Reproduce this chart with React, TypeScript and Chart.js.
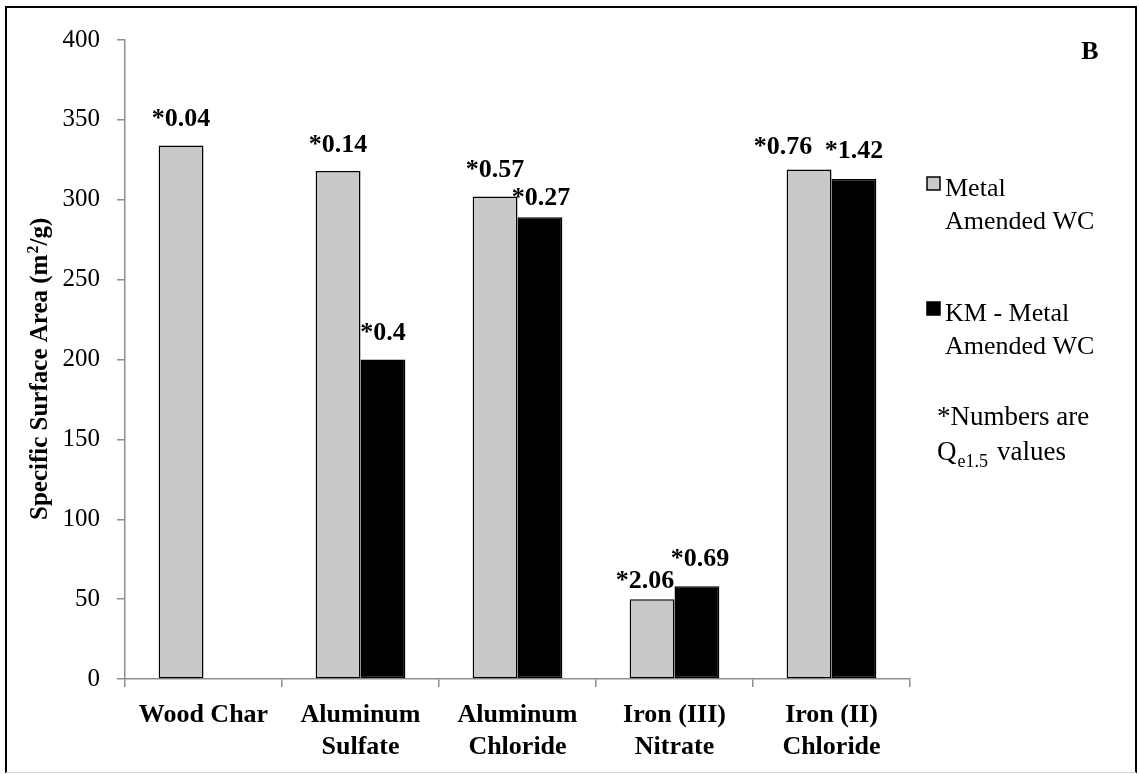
import React, { useEffect, useRef } from "react";
import { Chart, registerables } from "chart.js";

Chart.register(...registerables);

const SERIF = '"Liberation Serif", "Times New Roman", Times, serif';

// ---- data ----
const categories: string[][] = [
  ["Wood Char"],
  ["Aluminum", "Sulfate"],
  ["Aluminum", "Chloride"],
  ["Iron (III)", "Nitrate"],
  ["Iron (II)", "Chloride"],
];
const metalAmendedWC: (number | null)[] = [334, 318, 302, 50, 319];
const kmMetalAmendedWC: (number | null)[] = [null, 200, 289, 58, 313];
const metalQe: string[] = ["*0.04", "*0.14", "*0.57", "*2.06", "*0.76"];
const kmQe: string[] = ["", "*0.4", "*0.27", "*0.69", "*1.42"];
const yMin = 0;
const yMax = 400;
const yStep = 50;

const seriesNames = ["Metal Amended WC", "KM - Metal Amended WC"];
const legendLines: string[][] = [
  ["Metal", "Amended WC"],
  ["KM - Metal", "Amended WC"],
];
const yTitleMain = "Specific Surface Area (m";
const yTitleSup = "2";
const yTitleEnd = "/g)";
const panelLetter = "B";

// label placement offsets [dx, baseline distance above bar top]
const metalLabelShift: number[][] = [[0, 19], [0, 19], [0, 20], [-7, 11], [-26, 15]];
const kmLabelShift: number[][] = [[0, 0], [0, 20], [1, 12], [3, 20], [0, 21]];

const GRAY = "#c9c9c9";

const annotations = {
  id: "annotations",
  afterDatasetsDraw(chart: any) {
    const ctx = chart.ctx as CanvasRenderingContext2D;
    ctx.save();
    ctx.font = `bold 26px ${SERIF}`;
    ctx.fillStyle = "#000";
    ctx.textAlign = "center";
    ctx.textBaseline = "alphabetic";
    const sets = [metalQe, kmQe];
    const shifts = [metalLabelShift, kmLabelShift];
    sets.forEach((labels, di) => {
      const meta = chart.getDatasetMeta(di);
      meta.data.forEach((bar: any, i: number) => {
        const t = labels[i];
        const v = chart.data.datasets[di].data[i];
        if (!t || v == null) return;
        const [dx, dy] = shifts[di][i];
        ctx.fillText(t, bar.x + dx, bar.y - dy);
      });
    });
    ctx.restore();
  },
  afterDraw(chart: any) {
    const ctx = chart.ctx as CanvasRenderingContext2D;
    ctx.save();

    // y axis title (rotated) with superscript
    ctx.translate(47, 520);
    ctx.rotate(-Math.PI / 2);
    ctx.fillStyle = "#000";
    ctx.textAlign = "left";
    ctx.textBaseline = "alphabetic";
    ctx.font = `bold 25px ${SERIF}`;
    ctx.fillText(yTitleMain, 0, 0);
    let w = ctx.measureText(yTitleMain).width;
    ctx.font = `bold 16px ${SERIF}`;
    ctx.fillText(yTitleSup, w + 1, -9);
    w += ctx.measureText(yTitleSup).width + 1;
    ctx.font = `bold 25px ${SERIF}`;
    ctx.fillText(yTitleEnd, w, 0);
    ctx.setTransform(1, 0, 0, 1, 0, 0);

    // legend
    const colors = [GRAY, "#000"];
    const baseY = [196, 321];
    ctx.font = `26px ${SERIF}`;
    ctx.textAlign = "left";
    ctx.textBaseline = "alphabetic";
    legendLines.forEach((lines, i) => {
      const by = baseY[i];
      ctx.fillStyle = colors[i];
      ctx.fillRect(927, by - 19, 13, 13);
      ctx.strokeStyle = "#000";
      ctx.lineWidth = 1.5;
      ctx.strokeRect(927, by - 19, 13, 13);
      ctx.fillStyle = "#000";
      lines.forEach((ln, j) => ctx.fillText(ln, 945, by + j * 33));
    });

    // note
    ctx.font = `27px ${SERIF}`;
    ctx.fillText("*Numbers are", 937, 425);
    ctx.fillText("Q", 937, 460);
    const qw = ctx.measureText("Q").width;
    ctx.font = `18px ${SERIF}`;
    ctx.fillText("e1.5", 937 + qw + 1, 467);
    const ew = ctx.measureText("e1.5").width;
    ctx.font = `27px ${SERIF}`;
    ctx.fillText("values", 937 + qw + 1 + ew + 9, 460);

    // panel letter
    ctx.font = `bold 26px ${SERIF}`;
    ctx.textAlign = "center";
    ctx.fillText(panelLetter, 1090, 59);

    // frame
    ctx.strokeStyle = "#000";
    ctx.lineWidth = 2;
    ctx.beginPath();
    ctx.moveTo(6, 773);
    ctx.lineTo(6, 7);
    ctx.lineTo(1136, 7);
    ctx.lineTo(1136, 773);
    ctx.stroke();
    ctx.strokeStyle = "#d0d0d0";
    ctx.lineWidth = 1;
    ctx.beginPath();
    ctx.moveTo(6, 772.5);
    ctx.lineTo(1136, 772.5);
    ctx.stroke();
    ctx.restore();
  },
};

export default function App() {
  const ref = useRef<HTMLCanvasElement | null>(null);
  useEffect(() => {
    if (!ref.current) return;
    const chart = new Chart(ref.current, {
      type: "bar",
      data: {
        labels: categories,
        datasets: [
          {
            label: seriesNames[0],
            data: metalAmendedWC,
            backgroundColor: GRAY,
            borderColor: "#000",
            borderWidth: 1.5,
            borderSkipped: false,
            categoryPercentage: 2 / 3.5,
            barPercentage: 1,
          },
          {
            label: seriesNames[1],
            data: kmMetalAmendedWC,
            backgroundColor: "#000",
            borderColor: "#000",
            borderWidth: 1.5,
            borderSkipped: false,
            categoryPercentage: 2 / 3.5,
            barPercentage: 1,
          },
        ],
      },
      options: {
        animation: false,
        responsive: true,
        maintainAspectRatio: false,
        layout: { padding: { left: 0, top: 40, right: 229, bottom: 0 } },
        plugins: {
          legend: { display: false },
          tooltip: { enabled: false },
          title: { display: false },
        },
        scales: {
          x: {
            afterFit: (s: any) => {
              s.height = 95;
            },
            grid: {
              display: true,
              drawOnChartArea: false,
              drawTicks: true,
              tickLength: 8,
              color: "#8e8e8e",
              lineWidth: 1.5,
              offset: true,
            },
            border: { display: true, color: "#8e8e8e", width: 1.5 },
            ticks: {
              color: "#000",
              font: { family: SERIF, size: 26, weight: "bold", lineHeight: 1.23 },
              padding: 12,
              maxRotation: 0,
              autoSkip: false,
            },
          },
          y: {
            min: yMin,
            max: yMax,
            afterFit: (s: any) => {
              s.width = 125;
            },
            grid: {
              display: true,
              drawOnChartArea: false,
              drawTicks: true,
              tickLength: 8,
              color: "#8e8e8e",
              lineWidth: 1.5,
            },
            border: { display: true, color: "#8e8e8e", width: 1.5 },
            ticks: {
              stepSize: yStep,
              color: "#000",
              font: { family: SERIF, size: 25 },
              padding: 17,
            },
            title: { display: false },
          },
        },
      },
      plugins: [annotations],
    } as any);
    return () => chart.destroy();
  }, []);
  return (
    <div style={{ position: "absolute", left: 0, top: 0, width: 1139, height: 774, background: "#fff" }}>
      <canvas ref={ref} />
    </div>
  );
}
